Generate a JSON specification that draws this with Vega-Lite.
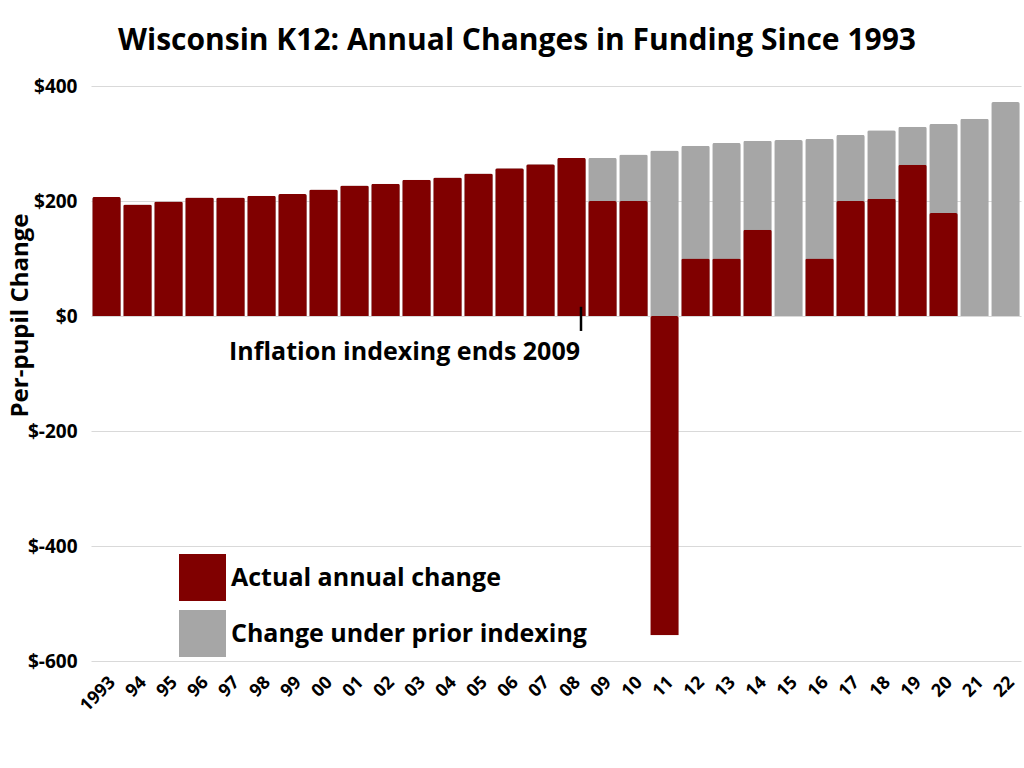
{
  "$schema": "https://vega.github.io/schema/vega-lite/v6.json",
  "width": 930,
  "height": 575,
  "autosize": {"type": "none"},
  "padding": {"left": 91, "top": 86, "right": 3, "bottom": 107},
  "background": "white",
  "title": {
    "text": "Wisconsin K12: Annual Changes in Funding Since 1993",
    "font": "Open Sans",
    "fontSize": 30,
    "fontWeight": "bold",
    "color": "black",
    "anchor": "middle",
    "baseline": "alphabetic",
    "dx": -39,
    "offset": 0,
    "dy": 3
  },
  "data": {
    "values": [
      {"year": "1993", "actual": 207, "prior": 207},
      {"year": "94", "actual": 194, "prior": 194},
      {"year": "95", "actual": 199, "prior": 199},
      {"year": "96", "actual": 206, "prior": 206},
      {"year": "97", "actual": 206, "prior": 206},
      {"year": "98", "actual": 209, "prior": 209},
      {"year": "99", "actual": 212, "prior": 212},
      {"year": "00", "actual": 220, "prior": 220},
      {"year": "01", "actual": 227, "prior": 227},
      {"year": "02", "actual": 230, "prior": 230},
      {"year": "03", "actual": 237, "prior": 237},
      {"year": "04", "actual": 241, "prior": 241},
      {"year": "05", "actual": 248, "prior": 248},
      {"year": "06", "actual": 257, "prior": 257},
      {"year": "07", "actual": 264, "prior": 264},
      {"year": "08", "actual": 275, "prior": 275},
      {"year": "09", "actual": 200, "prior": 275},
      {"year": "10", "actual": 200, "prior": 281},
      {"year": "11", "actual": -555, "prior": 288},
      {"year": "12", "actual": 100, "prior": 296},
      {"year": "13", "actual": 100, "prior": 301},
      {"year": "14", "actual": 150, "prior": 305},
      {"year": "15", "actual": 0, "prior": 306},
      {"year": "16", "actual": 100, "prior": 308},
      {"year": "17", "actual": 200, "prior": 315},
      {"year": "18", "actual": 204, "prior": 323},
      {"year": "19", "actual": 263, "prior": 329},
      {"year": "20", "actual": 179, "prior": 334},
      {"year": "21", "actual": 0, "prior": 343},
      {"year": "22", "actual": 0, "prior": 372}
    ]
  },
  "encoding": {
    "x": {
      "field": "year",
      "type": "ordinal",
      "sort": null,
      "scale": {"paddingInner": 0.08, "paddingOuter": 0.04},
      "axis": {
        "title": null,
        "labelAngle": -45,
        "labelFont": "Open Sans",
        "labelFontSize": 18,
        "labelFontWeight": "bold",
        "labelColor": "black",
        "labelPadding": 12,
        "domain": false,
        "ticks": false
      }
    }
  },
  "layer": [
    {
      "mark": {"type": "bar", "cornerRadiusEnd": 2},
      "encoding": {
        "y": {
          "field": "prior",
          "type": "quantitative",
          "scale": {"domain": [-600, 400], "nice": false},
          "axis": {
            "values": [-600, -400, -200, 0, 200, 400],
            "labelExpr": "'$' + datum.value",
            "labelFont": "Open Sans",
            "labelFontSize": 19,
            "labelFontWeight": "bold",
            "labelColor": "black",
            "labelPadding": 14,
            "grid": true,
            "gridColor": "#D9D9D9",
            "domain": false,
            "ticks": false,
            "title": "Per-pupil Change",
            "titleFont": "Open Sans",
            "titleFontSize": 24,
            "titleFontWeight": "bold",
            "titleColor": "black",
            "titleBaseline": "alphabetic",
            "titleX": -64,
            "titleY": 229
          }
        },
        "color": {
          "datum": "Change under prior indexing",
          "type": "nominal",
          "scale": {
            "domain": ["Actual annual change", "Change under prior indexing"],
            "range": ["#800000", "#A6A6A6"]
          },
          "legend": {
            "title": null,
            "orient": "none",
            "legendX": 88,
            "legendY": 468,
            "symbolType": "square",
            "symbolSize": 2209,
            "symbolStrokeWidth": 0,
            "symbolOpacity": 1,
            "labelFont": "Open Sans",
            "labelFontSize": 25,
            "labelFontWeight": "bold",
            "labelColor": "black",
            "labelLimit": 0,
            "labelOffset": 5,
            "rowPadding": 9,
            "padding": 0
          }
        }
      }
    },
    {
      "mark": {"type": "bar", "cornerRadiusEnd": 2},
      "encoding": {
        "y": {"field": "actual", "type": "quantitative"},
        "color": {"datum": "Actual annual change", "type": "nominal"}
      }
    },
    {
      "data": {"values": [{}]},
      "mark": {"type": "rule", "color": "black", "strokeWidth": 2.5, "xOffset": 9.5},
      "encoding": {
        "x": {"datum": "08"},
        "y": {"datum": 16},
        "y2": {"datum": -26}
      }
    },
    {
      "data": {"values": [{}]},
      "mark": {
        "type": "text",
        "text": "Inflation indexing ends 2009",
        "font": "Open Sans",
        "fontSize": 25,
        "fontWeight": "bold",
        "color": "black",
        "align": "right",
        "baseline": "alphabetic",
        "dx": 8.5
      },
      "encoding": {
        "x": {"datum": "08"},
        "y": {"datum": -77}
      }
    }
  ],
  "config": {"view": {"stroke": null}}
}
